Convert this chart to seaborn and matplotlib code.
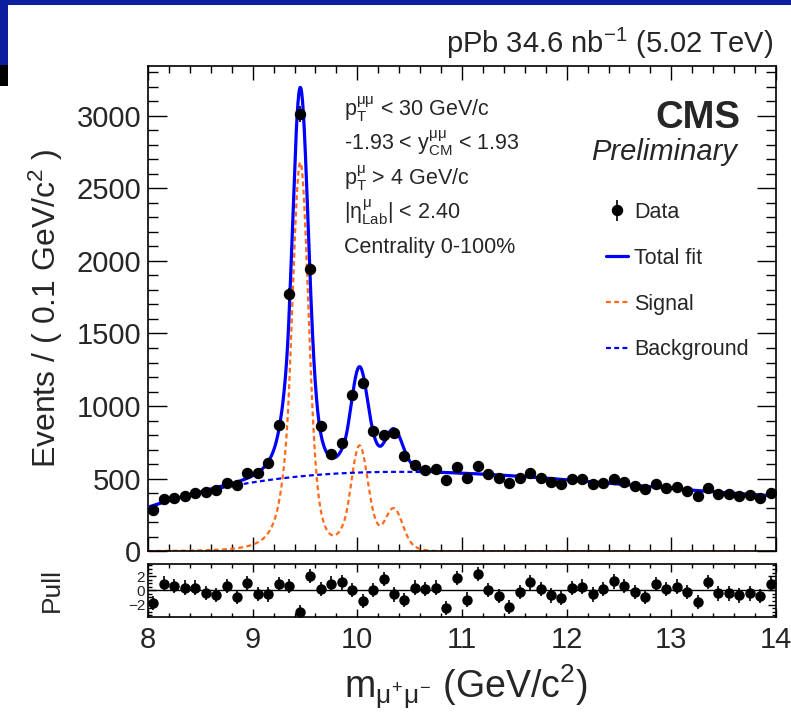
import numpy as np
import pandas as pd
import matplotlib
matplotlib.use("Agg")
import matplotlib.pyplot as plt
import seaborn as sns
from matplotlib.patches import Rectangle
from matplotlib.lines import Line2D
from matplotlib.ticker import MultipleLocator, FixedLocator

# ---------------- data ----------------
bin_low, bin_width, n_bins = 8.0, 0.1, 60
counts = [285, 358, 370, 381, 399, 408, 422, 473, 454, 537, 541, 610, 867,
          1769, 3010, 1941,
          862, 668, 748, 1074, 1156, 828, 798, 817, 656, 592, 560, 564, 491, 583, 507,
          587, 530, 502, 468, 507, 537, 507, 480, 466, 496, 496, 466, 473, 496, 480,
          450, 427, 461, 438, 445, 415, 381, 438, 397, 392, 381, 385, 370, 399]
pulls = [-1.78, 0.96, 0.63, 0.39, 0.39, -0.34, -0.67, 0.63, -0.92, 1.01,
         -0.48, -0.58, 0.87, 0.63, -3.08, 1.98, 0.24, 0.96, 1.11, 0.05,
         -1.45, 0.00, 1.59, -0.58, -1.40, 0.39, 0.14, 0.39, -2.50, 1.69,
         -1.30, 2.31, 0.00, -0.82, -2.36, -0.24, 1.11, 0.14, -0.72, -1.06,
         0.29, 0.53, -0.58, 0.14, 1.25, 0.63, -0.19, -0.92, 0.87, 0.24,
         0.53, -0.24, -1.64, 1.20, -0.43, -0.43, -0.72, -0.43, -0.82, 0.87]

# background level
bkg_mass = [8.0, 8.5, 9.0, 9.5, 10.0, 10.5, 11.0, 11.5, 12.0, 12.5, 13.0, 13.5, 14.0]
bkg_level = [305, 395, 480, 520, 540, 550, 540, 515, 489, 466, 434, 405, 380]

# Upsilon peaks: position, height, core width
peak_mass = [9.455, 10.02, 10.35]
peak_height = [2670, 715, 285]
peak_sigma = [0.0725, 0.0768, 0.0794]
wide_ratio, wide_frac, cb_alpha, cb_n = 1.93, 0.2, 1.5, 3.0

annot_lines = [r"$\mathrm{p}_{\mathrm{T}}^{\mu\mu}$ < 30 GeV/c",
               r"-1.93 < $\mathrm{y}_{\mathrm{CM}}^{\mu\mu}$ < 1.93",
               r"$\mathrm{p}_{\mathrm{T}}^{\mu}$ > 4 GeV/c",
               r"|$\eta_{\mathrm{Lab}}^{\mu}$| < 2.40",
               "Centrality 0-100%"]

# ---------------- model curves ----------------
def crystal_ball(x, m, s, a, n):
    t = (x - m) / s
    A = (n / a) ** n * np.exp(-a * a / 2)
    B = n / a - a
    out = np.exp(-0.5 * t * t)
    tail = t < -a
    out[tail] = A * (B - t[tail]) ** (-n)
    return out

def peak(x, m, h, s):
    return h * ((1 - wide_frac) * crystal_ball(x, m, s, cb_alpha, cb_n)
                + wide_frac * crystal_ball(x, m, s * wide_ratio, cb_alpha, cb_n))

xs = np.linspace(8.0, 14.0, 1500)
bkg_coef = np.polyfit(bkg_mass, bkg_level, 4)
bkg = np.polyval(bkg_coef, xs)
sig = sum(peak(xs, m, h, s) for m, h, s in zip(peak_mass, peak_height, peak_sigma))
fit_df = pd.DataFrame({"mass": xs, "total": bkg + sig, "signal": sig, "background": bkg})

centers = bin_low + bin_width * (np.arange(n_bins) + 0.5)
data_df = pd.DataFrame({"mass": centers, "events": counts, "pull": pulls})
data_df["err"] = np.sqrt(data_df["events"])

# ---------------- style ----------------
sns.set_theme(style="ticks")
plt.rcParams["font.family"] = ["Liberation Sans", "DejaVu Sans"]
plt.rcParams["mathtext.fontset"] = "custom"
plt.rcParams["mathtext.rm"] = "Liberation Sans"
plt.rcParams["mathtext.it"] = "Liberation Sans"
plt.rcParams["mathtext.bf"] = "Liberation Sans:bold"
plt.rcParams["axes.linewidth"] = 1.2
plt.rcParams["axes.unicode_minus"] = True

W, H = 791, 713
fig = plt.figure(figsize=(W / 100, H / 100), dpi=100)
fig.patch.set_facecolor("white")

def fx(px):
    return px / W

def fy(py):
    return 1 - py / H

ax = fig.add_axes([fx(148), fy(551.3), (776 - 148) / W, (551.3 - 66) / H])
axp = fig.add_axes([fx(148), fy(616.7), (776 - 148) / W, (616.7 - 564) / H], sharex=ax)

BLUE = "#0000ff"
ORANGE = "#ff6a1a"

# ---------------- main panel ----------------
sns.lineplot(data=fit_df, x="mass", y="signal", ax=ax, color=ORANGE, lw=1.6, zorder=2)
ax.lines[-1].set_dashes((2.2, 1.5))
sns.lineplot(data=fit_df, x="mass", y="background", ax=ax, color=BLUE, lw=1.6,
             zorder=2)
ax.lines[-1].set_dashes((2.2, 1.5))
sns.lineplot(data=fit_df, x="mass", y="total", ax=ax, color=BLUE, lw=2.3, zorder=3)
eb = ax.errorbar(data_df["mass"], data_df["events"], yerr=data_df["err"], fmt="o",
                 color="black", ms=7.2, elinewidth=1.2, capsize=0, zorder=4)

ax.set_xlim(8.0, 14.0)
ax.set_ylim(0, 3342)
ax.xaxis.set_major_locator(MultipleLocator(1))
ax.xaxis.set_minor_locator(MultipleLocator(0.2))
ax.yaxis.set_major_locator(MultipleLocator(500))
ax.yaxis.set_minor_locator(MultipleLocator(100))
ax.tick_params(which="both", direction="in", top=True, right=True, labelbottom=False,
               color="black")
ax.tick_params(axis="x", which="major", length=10, width=1)
ax.tick_params(axis="x", which="minor", length=5, width=1)
ax.tick_params(axis="y", which="major", length=14, width=1, labelsize=21, pad=5)
ax.tick_params(axis="y", which="minor", length=7, width=1)
ax.set_xlabel("")
ax.set_ylabel(r"Events / ( 0.1 GeV/c$^{2}$ )", fontsize=23)
ax.yaxis.set_label_coords(-0.132, 0.5)
for sp in ax.spines.values():
    sp.set_color("black")

handles = [eb,
           Line2D([], [], color=BLUE, lw=2.3),
           Line2D([], [], color=ORANGE, lw=1.6, dashes=(2.2, 1.5)),
           Line2D([], [], color=BLUE, lw=1.6, dashes=(2.2, 1.5))]
ax.legend(handles, ["Data", "Total fit", "Signal", "Background"], loc="upper left",
          bbox_to_anchor=(fx(606), fy(202)), bbox_transform=fig.transFigure,
          frameon=False, fontsize=15.5, borderpad=0, borderaxespad=0,
          handlelength=1.0, handletextpad=0.3, labelspacing=1.15)

# ---------------- pull panel ----------------
axp.axhline(0, color="black", lw=1.0, zorder=1)
axp.errorbar(data_df["mass"], data_df["pull"], yerr=1.0, fmt="o", color="black",
             ms=6.5, elinewidth=1.2, capsize=0, zorder=3)
axp.set_ylim(-3.7, 3.7)
axp.yaxis.set_major_locator(FixedLocator([-2, 0, 2]))
axp.yaxis.set_minor_locator(MultipleLocator(0.5))
axp.tick_params(which="both", direction="in", top=True, right=True, color="black")
axp.tick_params(axis="x", which="major", length=6, width=1, labelsize=21, pad=7)
axp.tick_params(axis="x", which="minor", length=3, width=1)
axp.tick_params(axis="y", which="major", length=6, width=1, labelsize=11, pad=2)
axp.tick_params(axis="y", which="minor", length=3, width=1)
axp.set_ylabel("Pull", fontsize=19)
axp.yaxis.set_label_coords(-0.134, 0.5)
axp.set_xlabel("")
for sp in axp.spines.values():
    sp.set_color("black")

# ---------------- texts ----------------
fig.text(fx(466), fy(698), r"m$_{\mu^{+}\mu^{-}}$ (GeV/c$^{2}$)", fontsize=27,
         ha="center", va="baseline")
fig.text(fx(773), fy(53), r"pPb 34.6 nb$^{-1}$ (5.02 TeV)", fontsize=21,
         ha="right", va="baseline")
fig.text(fx(740), fy(128), "CMS", fontsize=27.5, fontweight="bold",
         ha="right", va="baseline")
fig.text(fx(737), fy(160), "Preliminary", fontsize=21, fontstyle="italic",
         ha="right", va="baseline")
for i, line in enumerate(annot_lines):
    fig.text(fx(344), fy(116 + 34.3 * i), line, fontsize=15.5, ha="left",
             va="baseline")

# ---------------- slide decorations ----------------
DARKBLUE = "#0b1f9e"
fig.add_artist(Rectangle((0, fy(5)), 1, 5 / H, transform=fig.transFigure,
                         facecolor=DARKBLUE, edgecolor="none"))
fig.add_artist(Rectangle((0, fy(65)), 8 / W, 65 / H, transform=fig.transFigure,
                         facecolor=DARKBLUE, edgecolor="none"))
fig.add_artist(Rectangle((0, fy(86)), 8 / W, 21 / H, transform=fig.transFigure,
                         facecolor="black", edgecolor="none"))

fig.savefig("out.png", dpi=100)
